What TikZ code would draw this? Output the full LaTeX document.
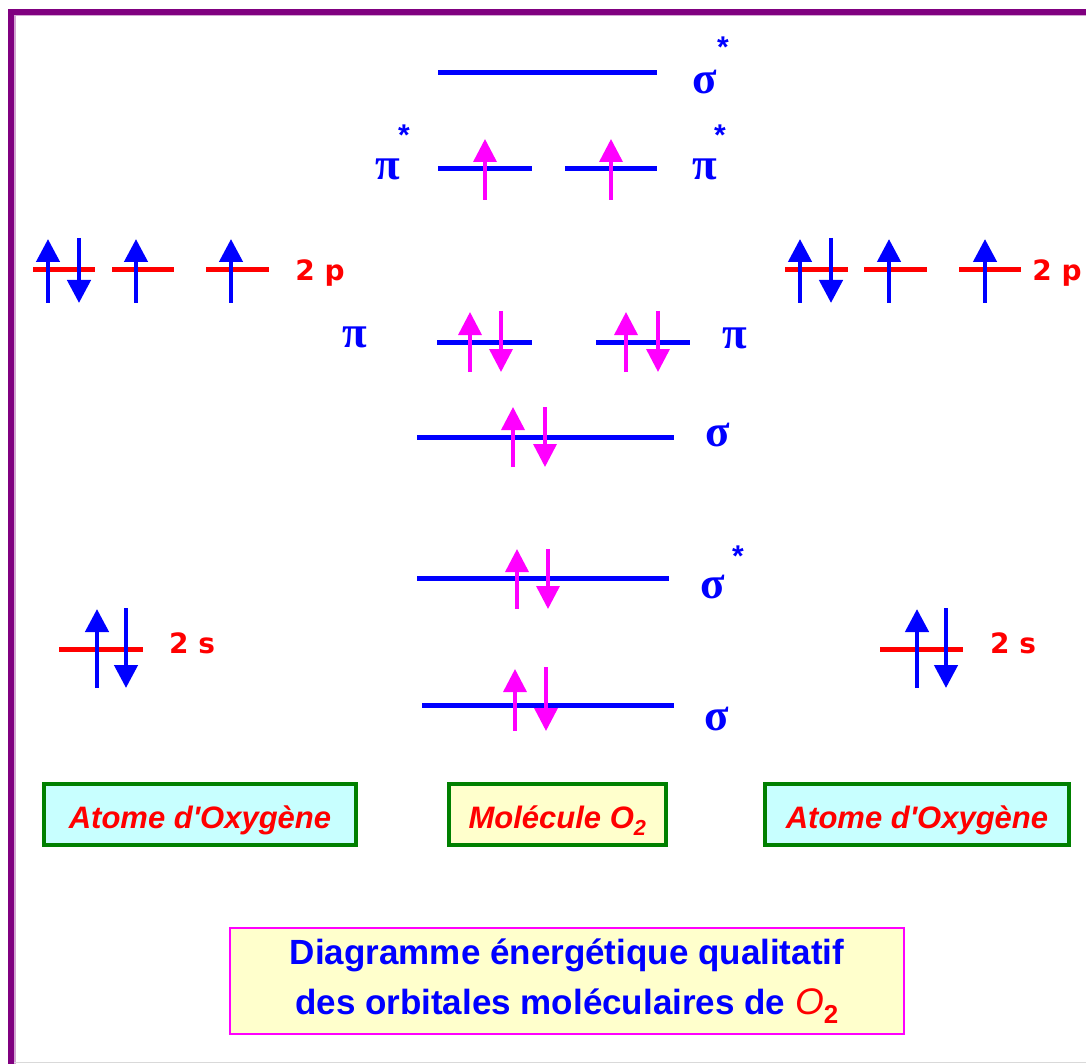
\documentclass[tikz,border=0pt]{standalone}
\usepackage{fontspec}
\usepackage{xcolor}
\usepackage{tikz}
\setmainfont{Liberation Sans}
\newfontfamily\grkfont{Liberation Serif}
\newfontfamily\orbfont{DejaVu Sans}
\usetikzlibrary{arrows.meta,positioning}
\definecolor{OBlue}{RGB}{0,0,255}
\definecolor{OMag}{RGB}{255,0,255}
\definecolor{ORed}{RGB}{255,0,0}
\definecolor{OGreen}{RGB}{0,128,0}
\definecolor{OPurple}{RGB}{128,0,128}
\definecolor{OCyan}{RGB}{200,255,255}
\definecolor{OYellow}{RGB}{255,255,204}

\tikzset{
  molevel/.style={draw=OBlue,line width=5pt},
  atlevel/.style={draw=ORed,line width=5pt},
  mospin/.style={line width=3.5pt,-{Triangle[width=23pt,length=23pt]},OMag},
  atspin/.style={line width=4.5pt,-{Triangle[width=23pt,length=23pt]},OBlue},
  greek/.style={inner sep=0pt,text=OBlue,font=\grkfont\bfseries\fontsize{45}{45}\selectfont},
  star/.style={inner sep=0pt,text=OBlue,font=\bfseries\fontsize{30}{30}\selectfont},
  orblabel/.style={inner sep=0pt,anchor=base,text=ORed,font=\orbfont\bfseries\fontsize{28}{28}\selectfont},
  namebox/.style={draw=OGreen,line width=4pt,minimum height=61pt,inner sep=0pt,
    text height=28pt,text depth=0pt,
    text=ORed,font=\bfseries\itshape\fontsize{31}{31}\selectfont}
}

\begin{document}
\begin{tikzpicture}[x=1pt,y=-1pt]
  \useasboundingbox (0,0) rectangle (1086,1064);

  \draw[OPurple,line width=6pt] (11,1064) -- (11,12) -- (1086,12);
  \draw[OPurple!35,line width=1.5pt] (14.75,1064) -- (14.75,15.75) -- (1086,15.75);
  \draw[black!15,line width=1pt] (14,1062.5) -- (1086,1062.5);

  % molecular levels
  \draw[molevel] (438,73) -- (657,73);
  \draw[molevel] (438,169) -- (532,169);
  \draw[molevel] (565,169) -- (657,169);
  \draw[molevel] (437,342) -- (532,342);
  \draw[molevel] (596,342) -- (690,342);
  \draw[molevel] (417,437) -- (674,437);
  \draw[molevel] (417,578) -- (669,578);
  \draw[molevel] (422,705) -- (674,705);

  % atomic levels
  \foreach \xa/\xb in {33/95,112/174,206/269,785/848,864/927,959/1021}
    \draw[atlevel] (\xa,270) -- (\xb,270);
  \draw[atlevel] (59,649) -- (143,649);
  \draw[atlevel] (880,649) -- (963,649);

  % electrons
  \foreach \x/\ya/\yb in {485/200/139,611/200/139,470/372/312,626/372/312,
      513/467/407,517/609/549,515/731/669,
      501/311/372,658/311/372,545/407/467,548/549/609,546/667/731}
    \draw[mospin] (\x,\ya) -- (\x,\yb);
  \foreach \x/\ya/\yb in {48/303/239,136/303/239,231/303/239,
      800/303/239,889/303/239,985/303/239,
      79/238/303,831/238/303,97/688/609,917/688/609,126/608/688,946/608/688}
    \draw[atspin] (\x,\ya) -- (\x,\yb);

  \node[greek] (sigs2p) at (705,82) {σ};
  \node[star] (sigs2pst) at (723,47) {*};
  \node[greek] (pisl) at (388,169) {π};
  \node[star] (pislst) at (404,135) {*};
  \node[greek] (pisr) at (705,169) {π};
  \node[star] (pisrst) at (720,135) {*};
  \node[greek] (pil) at (355,337) {π};
  \node[greek] (pir) at (735,338) {π};
  \node[greek] (sig2p) at (718,435) {σ};
  \node[greek] (sigs2s) at (713,587) {σ};
  \node[star] (sigs2sst) at (738,556) {*};
  \node[greek] (sig2s) at (717,719) {σ};

  \node[orblabel] (ptwol) at (320,281) {2 p};
  \node[orblabel] (ptwor) at (1057,281) {2 p};
  \node[orblabel] (stwol) at (192,653) {2 s};
  \node[orblabel] (stwor) at (1013,653) {2 s};

  \node[namebox,fill=OCyan,minimum width=312pt] (atoml) at (200,814.5) {Atome d\textquotesingle Oxygène};
  \node[namebox,fill=OYellow,minimum width=217pt] (mol) at (557.5,814.5) {Molécule O\textsubscript{2}};
  \node[namebox,fill=OCyan,minimum width=304pt] (atomr) at (917,814.5) {Atome d\textquotesingle Oxygène};

  \node[
    draw=OMag,
    line width=1.5pt,
    fill=OYellow,
    minimum width=674pt,
    minimum height=106pt,
    align=center,
    inner sep=0pt,
    text=OBlue,
    font=\bfseries\fontsize{35}{50}\selectfont
  ] (title) at (567,981) {
    Diagramme énergétique qualitatif\\
    des orbitales moléculaires de {\color{ORed}\mdseries\itshape\fontsize{37}{50}\selectfont O\textsubscript{\upshape\bfseries 2}}
  };
\end{tikzpicture}
\end{document}
